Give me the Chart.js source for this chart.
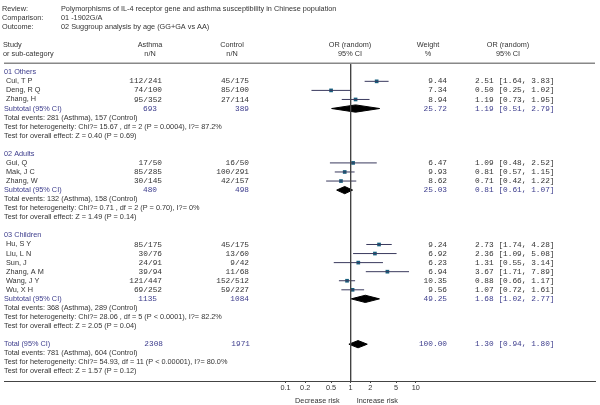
<!DOCTYPE html>
<html lang="en">
<head>
    <meta charset="UTF-8">
    <title>Forest plot - IL-4 receptor gene and asthma</title>
    <script src="https://cdn.jsdelivr.net/npm/chart.js"></script>
    <style>
        html, body {
            margin: 0;
            padding: 0;
            background: #fff;
        }

        .wrap {
            position: relative;
            width: 600px;
            height: 405px;
        }
    </style>
</head>
<body>
    <div class="wrap">
        <canvas id="forest"></canvas>
    </div>

    <script>
        // Header info
        const headerLabels = ['Review:', 'Comparison:', 'Outcome:'];
        const headerValues = [
            'Polymorphisms of IL-4 receptor gene and asthma susceptibility in Chinese population',
            '01 -1902G/A',
            '02 Suggroup analysis by age (GG+GA vs AA)'
        ];

        // Studies
        const studies = ['Cui, T P', 'Deng, R Q', 'Zhang, H', 'Gui, Q', 'Mak, J C', 'Zhang, W',
            'Hu, S Y', 'Liu, L N', 'Sun, J', 'Zhang, A M', 'Wang, J Y', 'Wu, X H'];
        const studyGroup = [0, 0, 0, 1, 1, 1, 2, 2, 2, 2, 2, 2];
        const asthmaNN = ['112/241', '74/100', '95/352', '17/50', '85/285', '30/145',
            '85/175', '30/76', '24/91', '39/94', '121/447', '69/252'];
        const controlNN = ['45/175', '85/100', '27/114', '16/50', '100/291', '42/157',
            '45/175', '13/60', '9/42', '11/68', '152/512', '59/227'];
        const weights = [9.44, 7.34, 8.94, 6.47, 9.93, 8.62, 9.24, 6.92, 6.23, 6.94, 10.35, 9.56];
        const orValues = [2.51, 0.50, 1.19, 1.09, 0.81, 0.71, 2.73, 2.36, 1.31, 3.67, 0.88, 1.07];
        const ciLower = [1.64, 0.25, 0.73, 0.48, 0.57, 0.42, 1.74, 1.09, 0.55, 1.71, 0.66, 0.72];
        const ciUpper = [3.83, 1.02, 1.95, 2.52, 1.15, 1.22, 4.28, 5.08, 3.14, 7.89, 1.17, 1.61];

        // Subgroups
        const groups = ['01 Others', '02 Adults', '03 Children'];
        const subAsthma = [693, 480, 1135];
        const subControl = [389, 498, 1084];
        const subWeight = [25.72, 25.03, 49.25];
        const subOR = [1.19, 0.81, 1.68];
        const subLower = [0.51, 0.61, 1.02];
        const subUpper = [2.79, 1.07, 2.77];
        const subEvents = [
            'Total events: 281 (Asthma), 157 (Control)',
            'Total events: 132 (Asthma), 158 (Control)',
            'Total events: 368 (Asthma), 289 (Control)'
        ];
        const subHetero = [
            'Test for heterogeneity: Chi?= 15.67 , df = 2 (P = 0.0004), I?= 87.2%',
            'Test for heterogeneity: Chi?= 0.71 , df = 2 (P = 0.70), I?= 0%',
            'Test for heterogeneity: Chi?= 28.06 , df = 5 (P < 0.0001), I?= 82.2%'
        ];
        const subEffect = [
            'Test for overall effect: Z = 0.40 (P = 0.69)',
            'Test for overall effect: Z = 1.49 (P = 0.14)',
            'Test for overall effect: Z = 2.05 (P = 0.04)'
        ];

        // Overall total
        const totalAsthma = 2308;
        const totalControl = 1971;
        const totalWeight = 100.00;
        const totalOR = 1.30;
        const totalLower = 0.94;
        const totalUpper = 1.80;
        const totalNotes = [
            'Total events: 781 (Asthma), 604 (Control)',
            'Test for heterogeneity: Chi?= 54.93, df = 11 (P < 0.00001), I?= 80.0%',
            'Test for overall effect: Z = 1.57 (P = 0.12)'
        ];

        const xTicks = [0.1, 0.2, 0.5, 1, 2, 5, 10];

        // ---- row layout ----
        const studyRow = [];
        const groupRow = [];
        const subRow = [];
        let r = 0;
        groups.forEach((g, gi) => {
            groupRow.push(r++);
            studies.forEach((s, si) => {
                if (studyGroup[si] === gi) studyRow[si] = r++;
            });
            subRow.push(r);
            r += 5; // subtotal + 3 notes + blank
        });
        const totalRow = r;

        // scale geometry (log axis, ~65.5px per decade, 1 at x=349)
        const pxDecade = 65.5;
        const xOne = 349;
        const plotRight = 595;
        const xMin = Math.pow(10, -xOne / pxDecade);
        const xMax = Math.pow(10, (plotRight - xOne) / pxDecade);
        const rowPx = 9.16;
        const firstRowY = 69;
        const axisY = 381;
        const yMin = -firstRowY / rowPx;
        const yMax = (axisY - firstRowY) / rowPx;

        const sans = '"Liberation Sans", Arial, sans-serif';
        const mono = '"Liberation Mono", "Courier New", monospace';
        const textColor = '#333333';
        const blue = '#3c3c8c';

        function diamond(or, lo, hi, row) {
            const h = 0.4;
            return [
                { x: lo, y: row }, { x: or, y: row - h }, { x: hi, y: row },
                { x: or, y: row + h }, { x: lo, y: row }
            ];
        }

        const datasets = [];

        // line of no effect
        datasets.push({
            data: [{ x: 1, y: -0.9 }, { x: 1, y: yMax }],
            showLine: true, borderColor: '#444', borderWidth: 1, pointRadius: 0
        });
        // header separator
        datasets.push({
            data: [{ x: xMin, y: -1 }, { x: xMax, y: -1 }],
            showLine: true, borderColor: '#888', borderWidth: 1.5, pointRadius: 0
        });
        // confidence intervals
        studies.forEach((s, i) => {
            datasets.push({
                data: [{ x: ciLower[i], y: studyRow[i] }, { x: ciUpper[i], y: studyRow[i] }],
                showLine: true, borderColor: '#3a3a5e', borderWidth: 1, pointRadius: 0
            });
        });
        // study squares
        datasets.push({
            data: studies.map((s, i) => ({ x: orValues[i], y: studyRow[i] })),
            pointStyle: 'rect', pointRadius: 2.6, backgroundColor: '#17607e', borderWidth: 0
        });
        // subtotal and total diamonds
        groups.forEach((g, gi) => {
            datasets.push({
                data: diamond(subOR[gi], subLower[gi], subUpper[gi], subRow[gi]),
                showLine: true, fill: 'shape', backgroundColor: '#000', borderColor: '#000',
                borderWidth: 1, pointRadius: 0, tension: 0
            });
        });
        datasets.push({
            data: diamond(totalOR, totalLower, totalUpper, totalRow),
            showLine: true, fill: 'shape', backgroundColor: '#000', borderColor: '#000',
            borderWidth: 1, pointRadius: 0, tension: 0
        });

        // text columns drawn through the y scale
        const textPlugin = {
            id: 'forestText',
            afterDraw(chart) {
                const ctx = chart.ctx;
                const ys = chart.scales.y;
                const xs = chart.scales.x;
                const Y = row => ys.getPixelForValue(row);
                function txt(s, x, row, align, font, color) {
                    ctx.font = font;
                    ctx.fillStyle = color;
                    ctx.textAlign = align;
                    ctx.textBaseline = 'middle';
                    ctx.fillText(s, x, typeof row === 'number' ? Y(row) : row.px);
                }
                const f = '7.3px ' + sans;
                const fm = '7.8px ' + mono;
                ctx.save();

                headerLabels.forEach((h, i) => {
                    txt(h, 2, -7 + i, 'left', f, textColor);
                    txt(headerValues[i], 61, -7 + i, 'left', f, textColor);
                });
                txt('Study', 3, -3, 'left', f, textColor);
                txt('or sub-category', 3, -2, 'left', f, textColor);
                txt('Asthma', 150, -3, 'center', f, textColor);
                txt('n/N', 150, -2, 'center', f, textColor);
                txt('Control', 232, -3, 'center', f, textColor);
                txt('n/N', 232, -2, 'center', f, textColor);
                txt('OR (random)', 350, -3, 'center', f, textColor);
                txt('95% CI', 350, -2, 'center', f, textColor);
                txt('Weight', 428, -3, 'center', f, textColor);
                txt('%', 428, -2, 'center', f, textColor);
                txt('OR (random)', 508, -3, 'center', f, textColor);
                txt('95% CI', 508, -2, 'center', f, textColor);

                const ci = (o, l, h) => o.toFixed(2) + ' [' + l.toFixed(2) + ', ' + h.toFixed(2) + ']';

                groups.forEach((g, gi) => {
                    txt(g, 4, groupRow[gi], 'left', f, blue);
                    const sr = subRow[gi];
                    txt('Subtotal (95% CI)', 4, sr, 'left', f, blue);
                    txt(String(subAsthma[gi]), 157, sr, 'right', fm, blue);
                    txt(String(subControl[gi]), 249, sr, 'right', fm, blue);
                    txt(subWeight[gi].toFixed(2), 447, sr, 'right', fm, blue);
                    txt(ci(subOR[gi], subLower[gi], subUpper[gi]), 475, sr, 'left', fm, blue);
                    txt(subEvents[gi], 4, sr + 1, 'left', f, textColor);
                    txt(subHetero[gi], 4, sr + 2, 'left', f, textColor);
                    txt(subEffect[gi], 4, sr + 3, 'left', f, textColor);
                });

                studies.forEach((s, i) => {
                    const row = studyRow[i];
                    txt(s, 6, row, 'left', f, textColor);
                    txt(asthmaNN[i], 162, row, 'right', fm, textColor);
                    txt(controlNN[i], 249, row, 'right', fm, textColor);
                    txt(weights[i].toFixed(2), 447, row, 'right', fm, textColor);
                    txt(ci(orValues[i], ciLower[i], ciUpper[i]), 475, row, 'left', fm, textColor);
                });

                txt('Total (95% CI)', 4, totalRow, 'left', f, blue);
                txt(String(totalAsthma), 163, totalRow, 'right', fm, blue);
                txt(String(totalControl), 250, totalRow, 'right', fm, blue);
                txt(totalWeight.toFixed(2), 447, totalRow, 'right', fm, blue);
                txt(ci(totalOR, totalLower, totalUpper), 475, totalRow, 'left', fm, blue);
                totalNotes.forEach((n, i) => txt(n, 4, totalRow + 1 + i, 'left', f, textColor));

                const x1 = xs.getPixelForValue(1);
                const yb = chart.chartArea.bottom + 20;
                txt('Decrease risk', x1 - 11, { px: yb }, 'right', f, textColor);
                txt('Increase risk', x1 + 6, { px: yb }, 'left', f, textColor);
                ctx.restore();
            }
        };

        new Chart(document.getElementById('forest'), {
            type: 'scatter',
            data: { datasets: datasets },
            options: {
                responsive: true,
                maintainAspectRatio: false,
                animation: false,
                layout: { padding: { left: 0, right: 600 - plotRight, top: 0, bottom: 0 } },
                plugins: {
                    legend: { display: false },
                    tooltip: { enabled: false }
                },
                scales: {
                    x: {
                        type: 'logarithmic',
                        bounds: 'data',
                        min: xMin,
                        max: xMax,
                        afterBuildTicks: scale => {
                            scale.ticks = xTicks.map(v => ({ value: v }));
                        },
                        afterFit: scale => { scale.height = 405 - axisY; },
                        border: { display: true, color: '#444', width: 1 },
                        grid: { drawOnChartArea: false, drawTicks: true, tickLength: 2, color: '#444' },
                        ticks: {
                            autoSkip: false,
                            maxRotation: 0,
                            padding: 1,
                            color: textColor,
                            font: { family: sans, size: 7.3 },
                            callback: v => String(v)
                        }
                    },
                    y: {
                        type: 'linear',
                        display: false,
                        reverse: true,
                        min: yMin,
                        max: yMax
                    }
                }
            },
            plugins: [textPlugin]
        });
    </script>
</body>
</html>
